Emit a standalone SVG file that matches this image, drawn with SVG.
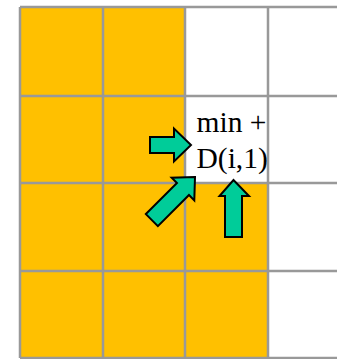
<svg xmlns="http://www.w3.org/2000/svg" width="337" height="359" viewBox="0 0 337 359">
<style>
.y{fill:#FFC000}
.g{stroke:#999;stroke-width:2.5;fill:none}
.a{fill:#00CC99;stroke:#000;stroke-width:2;stroke-linejoin:miter}
text{font-family:"Liberation Serif","Times New Roman",serif;font-size:29.5px;fill:#000}
</style>
<rect width="337" height="359" fill="#fff"/>
<g id="cells">
<rect class="y" x="20" y="7" width="165" height="176"/>
<rect class="y" x="20" y="183" width="248" height="175"/>
</g>
<g id="grid">
<path class="g" d="M20 7V358M103 7V358M185 7V358M268 7V358"/>
<path class="g" d="M20 7H337M20 96H337M20 183H337M20 271H337M20 358H337"/>
</g>
<g id="cell-label">
<text x="196.5" y="132">min +</text>
<text x="196.5" y="168">D(i,1)</text>
</g>
<g id="connectors">
<polygon class="a" points="150,137 174,137 174,128.5 191,145 174,161.5 174,153 150,153"/>
<polygon class="a" points="225,237 225,196 219.5,196 233.5,180 249,196 242,196 242,237"/>
<polygon class="a" transform="translate(195,177) rotate(-45)" points="0,0 -17,-16 -17,-8.5 -61,-8.5 -61,8.5 -17,8.5 -17,16"/>
</g>
</svg>
